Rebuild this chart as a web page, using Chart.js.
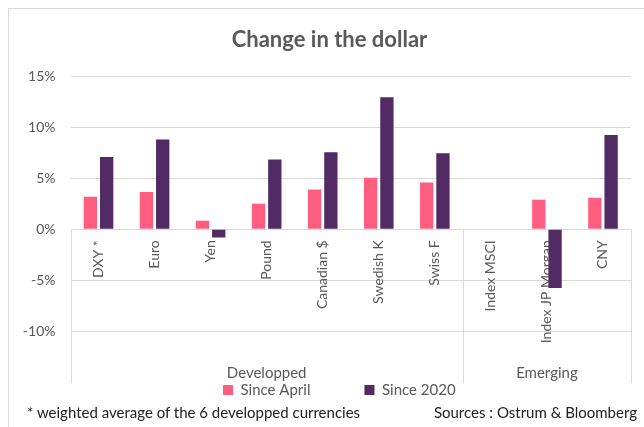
<!DOCTYPE html>
<html>
<head>
<meta charset="utf-8">
<title>Change in the dollar</title>
<script src="https://cdn.jsdelivr.net/npm/chart.js@4.4.1/dist/chart.umd.min.js"></script>
<style>
  html, body { margin: 0; padding: 0; background: #fff; overflow: hidden; }
  #wrap { position: relative; width: 644px; height: 427px; overflow: hidden; }
  #frame { position: absolute; left: 8px; top: 8px; width: 700px; height: 500px; border: 1px solid #d9d9d9; box-sizing: border-box; }
  #box { position: absolute; left: 0; top: 0; width: 644px; height: 427px; }
  .note { position: absolute; top: 402px; font: 15px Lato, sans-serif; color: #222; white-space: nowrap; line-height: 20px; }
</style>
</head>
<body>
<div id="wrap">
  <div id="frame"></div>
  <div id="box"><canvas id="chart"></canvas></div>
  <div class="note" style="left:27px">* weighted average of the 6 developped currencies</div>
  <div class="note" style="right:7px">Sources : Ostrum &amp; Bloomberg</div>
</div>
<script>
const categories = ['DXY *', 'Euro', 'Yen', 'Pound', 'Canadian $', 'Swedish K', 'Swiss F', 'Index MSCI', 'Index JP Morgan', 'CNY'];
const groups = ['Developped', 'Emerging'];
const groupSizes = [7, 3];
const sinceApril = [3.2, 3.65, 0.85, 2.5, 3.9, 5.05, 4.6, null, 2.9, 3.1];
const since2020 = [7.1, 8.8, -0.8, 6.85, 7.55, 12.95, 7.45, null, -5.75, 9.25];
const yMin = -15, yMax = 15, yStep = 5;

const GREY = '#595959';
const LINE = '#d9d9d9';
const FONT = 'Lato, "Open Sans", sans-serif';

// vertical separators under the zero line + group names (Excel multi-level axis look)
const groupAxis = {
    id: 'groupAxis',
    beforeDatasetsDraw: (chart) => {
        const {ctx, chartArea, scales: {x, y}} = chart;
        const y0 = y.getPixelForValue(0);
        const half = (x.getPixelForValue(1) - x.getPixelForValue(0)) / 2;
        const edges = [x.left];
        let n = 0;
        groupSizes.forEach(size => {
            n += size;
            edges.push(x.getPixelForValue(n - 1) + half);
        });
        ctx.save();
        ctx.strokeStyle = LINE;
        ctx.lineWidth = 1;
        edges.forEach(px => {
            const xx = Math.round(px) + 0.5;
            ctx.beginPath();
            ctx.moveTo(xx, y0);
            ctx.lineTo(xx, chartArea.bottom + 1);
            ctx.stroke();
        });
        ctx.fillStyle = GREY;
        ctx.font = '15px ' + FONT;
        ctx.textAlign = 'center';
        ctx.textBaseline = 'middle';
        groups.forEach((g, i) => ctx.fillText(g, (edges[i] + edges[i + 1]) / 2, chartArea.bottom - 9));
        ctx.restore();
    }
};

// legend tucked up right under the plot; title nudged to the picture's centre
const layoutNudge = {
    id: 'layoutNudge',
    afterLayout: (chart) => {
        const lg = chart.legend;
        if(lg) {
            const pad = lg.options.labels.padding;
            // only move the top so the legend's clip box still covers its items
            lg.top = 382.5 - pad;
            if(lg.lineWidths) {
                const startX = (lg.left + pad + lg.right - lg.lineWidths[0]) / 2;
                const dx = 223 - startX;
                lg.left += dx;
                lg.right += dx;
            }
        }
        const tb = chart.titleBlock;
        if(tb) {
            tb.left += 9;
            tb.right += 9;
        }
    }
};

new Chart(document.getElementById('chart'), {
    type: 'bar',
    data: {
        labels: categories,
        datasets: [
            { label: 'Since April', data: sinceApril, backgroundColor: '#FF5E80', categoryPercentage: 0.58, barPercentage: 0.82 },
            { label: 'Since 2020', data: since2020, backgroundColor: '#522A64', categoryPercentage: 0.58, barPercentage: 0.82 }
        ]
    },
    options: {
        responsive: true,
        maintainAspectRatio: false,
        animation: false,
        devicePixelRatio: 1,
        layout: { padding: { left: 10, right: 13, top: 0, bottom: 24.7 } },
        plugins: {
            title: {
                display: true,
                text: 'Change in the dollar',
                color: GREY,
                font: { family: FONT, size: 22, weight: 'bold' },
                padding: { top: 27, bottom: 22.9 }
            },
            legend: {
                position: 'bottom',
                maxHeight: 20,
                labels: { boxWidth: 10, boxHeight: 10, padding: 54, color: GREY, font: { family: FONT, size: 15 } }
            },
            tooltip: { enabled: false }
        },
        scales: {
            x: {
                position: { y: 0 },
                grid: { display: false, drawTicks: false },
                border: { display: false },
                ticks: { autoSkip: false, minRotation: 90, maxRotation: 90, padding: 11, color: GREY, font: { family: FONT, size: 14 } },
                afterFit: (scale) => { scale.height = 0; }
            },
            y: {
                min: yMin,
                max: yMax,
                grid: {
                    drawTicks: false,
                    color: (c) => (c.tick && c.tick.value === yMin) ? 'rgba(0,0,0,0)' : LINE
                },
                border: { display: false },
                ticks: {
                    stepSize: yStep,
                    padding: 15,
                    color: GREY,
                    font: { family: FONT, size: 14 },
                    callback: (v) => v === yMin ? '' : v + '%'
                },
                afterFit: (scale) => { scale.width = 60.5; }
            }
        }
    },
    plugins: [groupAxis, layoutNudge]
});
</script>
</body>
</html>
